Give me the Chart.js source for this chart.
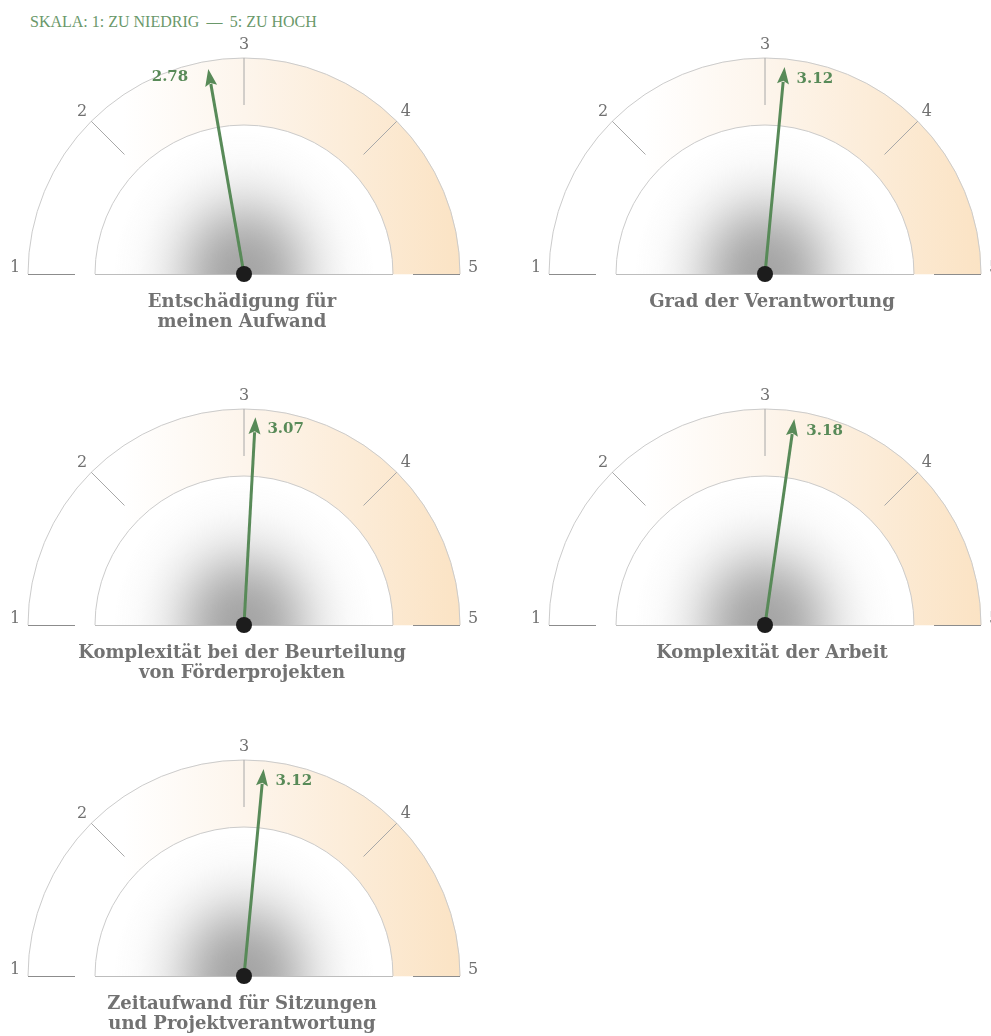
<!DOCTYPE html>
<html lang="de">
<head>
<meta charset="utf-8">
<title>Einschätzung der Gutachtertätigkeit</title>
<script src="https://cdn.jsdelivr.net/npm/chart.js@4.4.1/dist/chart.umd.min.js"></script>
<style>
  html, body { margin: 0; padding: 0; background: #ffffff; overflow: hidden; }
  #page { position: relative; width: 991px; height: 1036px; overflow: hidden; }
  .scale-note {
    position: absolute; left: 30px; top: 14px; white-space: nowrap;
    font: 16px/16px "Liberation Serif", serif; color: #6a986a;
  }
  .gauge-canvas { position: absolute; }
  .gauge-title {
    position: absolute; width: 500px; text-align: center;
    font: bold 18px/20px "DejaVu Serif", serif; color: #727272;
  }
</style>
</head>
<body>
<div id="page">
  <div class="scale-note">SKALA: 1: ZU NIEDRIG &#8201;—&#8201; 5: ZU HOCH</div>
</div>
<script>
// Scale of the dials and the survey results
const scaleTicks = [1, 2, 3, 4, 5];
const gaugeTitles = [
  ['Entschädigung für', 'meinen Aufwand'],
  ['Grad der Verantwortung'],
  ['Komplexität bei der Beurteilung', 'von Förderprojekten'],
  ['Komplexität der Arbeit'],
  ['Zeitaufwand für Sitzungen', 'und Projektverantwortung']
];
const gaugeValues = [2.78, 3.12, 3.07, 3.18, 3.12];

// Grid layout: dial centres on the page
const COL_X = [244, 765];
const TITLE_SHIFT = [-2, 7];
const ROW_Y = [274, 625, 976];
const OUTER_R = 216;
const INNER_R = 149;
const CANVAS_W = 500, CANVAS_H = 300, CENTER_IN_CANVAS = 250;

const GREEN = '#588a58';
const GREY_TEXT = '#707070';

// Segment sizes between neighbouring scale ticks
const segmentSizes = scaleTicks.slice(1).map((t, i) => t - scaleTicks[i]);

const bandFill = (ctx) => {
  const chart = ctx.chart;
  const area = chart.chartArea;
  if (!area) return '#ffffff';
  const g = chart.ctx.createLinearGradient(area.left, 0, area.right, 0);
  g.addColorStop(0, '#ffffff');
  g.addColorStop(0.22, '#ffffff');
  g.addColorStop(0.5, '#fdf5ec');
  g.addColorStop(1, '#fbe3c4');
  return g;
};

const gaugeDial = {
  id: 'gaugeDial',
  geometry(chart) {
    const arcs = chart.getDatasetMeta(0).data;
    const first = arcs[0];
    const last = arcs[arcs.length - 1];
    return {
      arcs,
      x: first.x, y: first.y,
      rIn: first.innerRadius, rOut: first.outerRadius,
      a0: first.startAngle, a1: last.endAngle
    };
  },
  valueAngle(g, v) {
    const lo = scaleTicks[0], hi = scaleTicks[scaleTicks.length - 1];
    return g.a0 + (v - lo) / (hi - lo) * (g.a1 - g.a0);
  },
  beforeDatasetsDraw(chart) {
    const g = this.geometry(chart);
    const ctx = chart.ctx;
    // soft shadow under the hub
    ctx.save();
    ctx.beginPath();
    ctx.arc(g.x, g.y, g.rIn, Math.PI, 2 * Math.PI);
    ctx.closePath();
    ctx.clip();
    ctx.translate(g.x, g.y);
    ctx.scale(1, 1.1);
    const R = 130;
    const sh = ctx.createRadialGradient(0, 0, 0, 0, 0, R);
    const steps = 20;
    for (let i = 0; i <= steps; i++) {
      const t = i / steps;
      const d = t * R;
      const a = i === steps ? 0 : 0.78 * Math.exp(-Math.pow(d / 68, 2.4));
      sh.addColorStop(t, `rgba(140,140,140,${a.toFixed(3)})`);
    }
    ctx.fillStyle = sh;
    ctx.fillRect(-R, -R, 2 * R, R);
    ctx.restore();
  },
  afterDatasetsDraw(chart, args, opts) {
    const g = this.geometry(chart);
    const ctx = chart.ctx;
    const value = opts.value;

    ctx.save();
    // outlines of the band and the inner half disc
    ctx.lineWidth = 1;
    ctx.strokeStyle = '#cbcbcb';
    ctx.beginPath();
    ctx.arc(g.x, g.y, g.rOut, g.a0, g.a1);
    ctx.stroke();
    ctx.beginPath();
    ctx.arc(g.x, g.y, g.rIn, g.a0, g.a1);
    ctx.stroke();
    ctx.strokeStyle = '#bdbdbd';
    ctx.beginPath();
    ctx.moveTo(g.x - g.rIn, g.y + 0.5);
    ctx.lineTo(g.x + g.rIn, g.y + 0.5);
    ctx.stroke();

    // tick marks and tick labels
    const tickAngles = g.arcs.map(a => a.startAngle).concat([g.a1]);
    const tickLen = 47;
    ctx.font = '16px "DejaVu Serif", serif';
    ctx.fillStyle = GREY_TEXT;
    tickAngles.forEach((ang, i) => {
      const c = Math.cos(ang), s = Math.sin(ang);
      const horizontal = Math.abs(s) < 0.01;
      ctx.strokeStyle = horizontal ? '#8c8c8c' : '#a8a8a8';
      ctx.beginPath();
      const yOff = horizontal ? 0.5 : 0;
      ctx.moveTo(g.x + g.rOut * c, g.y + g.rOut * s + yOff);
      ctx.lineTo(g.x + (g.rOut - tickLen) * c, g.y + (g.rOut - tickLen) * s + yOff);
      ctx.stroke();
      const lr = g.rOut + 13;
      ctx.textAlign = 'center';
      ctx.textBaseline = 'middle';
      const ly = g.y + lr * s - (horizontal ? 6 : 0);
      ctx.fillText(String(scaleTicks[i]), g.x + lr * c, ly);
    });

    // needle
    const ang = this.valueAngle(g, value);
    const c = Math.cos(ang), s = Math.sin(ang);
    const tipR = 208, headLen = 17, headHalf = 6;
    const tipX = g.x + tipR * c, tipY = g.y + tipR * s;
    const baseX = g.x + (tipR - headLen) * c, baseY = g.y + (tipR - headLen) * s;
    ctx.strokeStyle = GREEN;
    ctx.fillStyle = GREEN;
    ctx.lineWidth = 3;
    ctx.beginPath();
    ctx.moveTo(g.x, g.y);
    ctx.lineTo(baseX + 2 * c, baseY + 2 * s);
    ctx.stroke();
    ctx.beginPath();
    ctx.moveTo(tipX, tipY);
    ctx.lineTo(baseX - headHalf * s, baseY + headHalf * c);
    ctx.lineTo(baseX + 3 * c, baseY + 3 * s);
    ctx.lineTo(baseX + headHalf * s, baseY - headHalf * c);
    ctx.closePath();
    ctx.fill();

    // hub
    ctx.fillStyle = '#1c1c1c';
    ctx.beginPath();
    ctx.arc(g.x, g.y, 8, 0, 2 * Math.PI);
    ctx.fill();

    // value label next to the needle tip
    ctx.font = 'bold 15px "DejaVu Serif", serif';
    ctx.fillStyle = GREEN;
    ctx.textBaseline = 'alphabetic';
    const txt = value.toFixed(2);
    if (c >= 0) {
      ctx.textAlign = 'left';
      ctx.fillText(txt, tipX + 12, tipY + 16);
    } else {
      ctx.textAlign = 'right';
      ctx.fillText(txt, tipX - 20, tipY + 12);
    }
    ctx.restore();
  }
};

const page = document.getElementById('page');

gaugeValues.forEach((value, i) => {
  const col = i % 2;
  const cx = COL_X[col];
  const cy = ROW_Y[Math.floor(i / 2)];

  const canvas = document.createElement('canvas');
  canvas.className = 'gauge-canvas';
  canvas.width = CANVAS_W;
  canvas.height = CANVAS_H;
  canvas.style.width = CANVAS_W + 'px';
  canvas.style.height = CANVAS_H + 'px';
  canvas.style.left = (cx - CENTER_IN_CANVAS) + 'px';
  canvas.style.top = (cy - CENTER_IN_CANVAS) + 'px';
  page.appendChild(canvas);

  const title = document.createElement('div');
  title.className = 'gauge-title';
  title.style.left = (cx - 250 + TITLE_SHIFT[col]) + 'px';
  title.style.top = (cy + 17) + 'px';
  title.innerHTML = gaugeTitles[i].join('<br>');
  page.appendChild(title);

  const side = (CANVAS_W - 2 * OUTER_R) / 2;
  new Chart(canvas, {
    type: 'doughnut',
    data: {
      labels: segmentSizes.map((_, k) => scaleTicks[k] + '–' + scaleTicks[k + 1]),
      datasets: [{
        data: segmentSizes,
        backgroundColor: bandFill,
        borderColor: bandFill,
        borderWidth: 0.6,
        hoverOffset: 0
      }]
    },
    options: {
      responsive: false,
      animation: false,
      events: [],
      rotation: -90,
      circumference: 180,
      radius: OUTER_R,
      cutout: (INNER_R / OUTER_R * 100) + '%',
      layout: {
        padding: {
          left: side,
          right: side,
          top: CENTER_IN_CANVAS - OUTER_R,
          bottom: CANVAS_H - CENTER_IN_CANVAS
        }
      },
      plugins: {
        legend: { display: false },
        tooltip: { enabled: false },
        gaugeDial: { value }
      }
    },
    plugins: [gaugeDial]
  });
});
</script>
</body>
</html>
